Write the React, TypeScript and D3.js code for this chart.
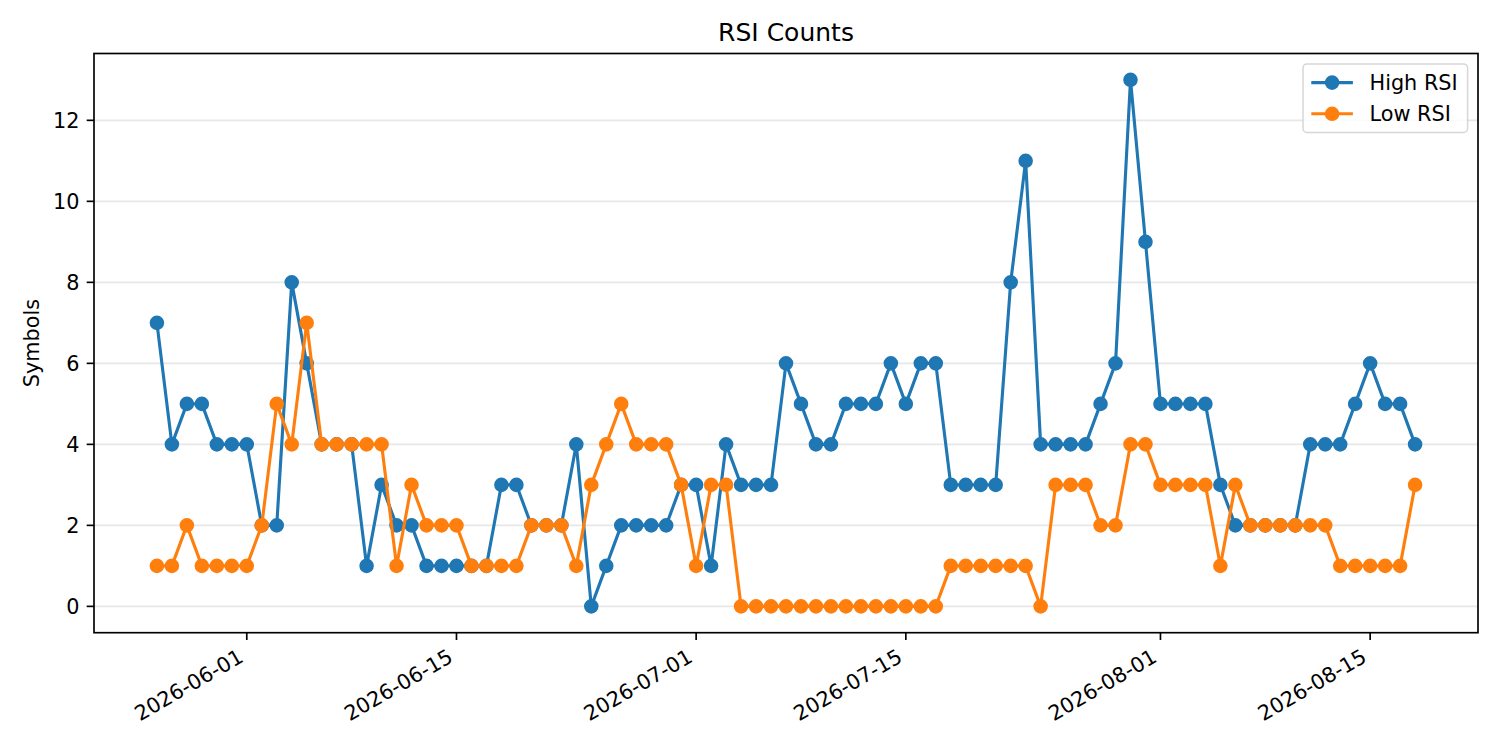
import React from 'react'
import * as d3 from 'd3'

// daily counts, starting 2026-05-26
const startDay = '2026-05-26'
const highRsi = [
  7, 4, 5, 5, 4, 4, 4, 2, 2, 8, 6, 4, 4, 4, 1, 3, 2, 2, 1, 1, 1, 1, 1, 3, 3, 2, 2, 2, 4, 0,
  1, 2, 2, 2, 2, 3, 3, 1, 4, 3, 3, 3, 6, 5, 4, 4, 5, 5, 5, 6, 5, 6, 6, 3, 3, 3, 3, 8, 11, 4,
  4, 4, 4, 5, 6, 13, 9, 5, 5, 5, 5, 3, 2, 2, 2, 2, 2, 4, 4, 4, 5, 6, 5, 5, 4,
]
const lowRsi = [
  1, 1, 2, 1, 1, 1, 1, 2, 5, 4, 7, 4, 4, 4, 4, 4, 1, 3, 2, 2, 2, 1, 1, 1, 1, 2, 2, 2, 1, 3,
  4, 5, 4, 4, 4, 3, 1, 3, 3, 0, 0, 0, 0, 0, 0, 0, 0, 0, 0, 0, 0, 0, 0, 1, 1, 1, 1, 1, 1, 0,
  3, 3, 3, 2, 2, 4, 4, 3, 3, 3, 3, 1, 3, 2, 2, 2, 2, 2, 2, 1, 1, 1, 1, 1, 3,
]
const xTickLabels = ['2026-06-01', '2026-06-15', '2026-07-01', '2026-07-15', '2026-08-01', '2026-08-15']
const yTicks = [0, 2, 4, 6, 8, 10, 12]

const series = [
  { name: 'High RSI', color: '#1f77b4', values: highRsi },
  { name: 'Low RSI', color: '#ff7f0e', values: lowRsi },
]

const W = 1500, H = 750
const left = 94, right = 1478, top = 53.5, bottom = 632.7
const font = '"DejaVu Sans", sans-serif'
const fs = 20.8

const parse = d3.utcParse('%Y-%m-%d')
const start = parse(startDay)!
const dates = highRsi.map((_, i) => d3.utcDay.offset(start, i))

function App() {
  const first = dates[0].getTime(), last = dates[dates.length - 1].getTime()
  const padX = (last - first) * 0.05
  const x = d3.scaleUtc()
    .domain([new Date(first - padX), new Date(last + padX)])
    .range([left, right])
  const yMax = d3.max([...highRsi, ...lowRsi])!
  const padY = yMax * 0.05
  const y = d3.scaleLinear().domain([-padY, yMax + padY]).range([bottom, top])

  const line = d3.line<number>()
    .x((_, i) => x(dates[i]))
    .y(v => y(v))

  const tickLen = 7.3
  const labelH = 20.1
  const legX = 1303, legY = 63.9, legW = right - 10.4 - 1303, legH = 68.6

  return (
    <>
      <style>{`body{margin:0}`}</style>
      <svg width={W} height={H} style={{ display: 'block', background: '#fff' }} fontFamily={font}>
        {/* grid */}
        {yTicks.map(t => (
          <line key={'g' + t} x1={left} x2={right} y1={y(t)} y2={y(t)} stroke="#b0b0b0" strokeOpacity={0.3} strokeWidth={1.67} />
        ))}

        {/* series */}
        {series.map(s => (
          <g key={s.name}>
            <path d={line(s.values)!} fill="none" stroke={s.color} strokeWidth={3.125} strokeLinejoin="round" />
            {s.values.map((v, i) => (
              <circle key={i} cx={x(dates[i])} cy={y(v)} r={6.25} fill={s.color} stroke={s.color} strokeWidth={2.08} />
            ))}
          </g>
        ))}

        {/* frame */}
        <rect x={left} y={top} width={right - left} height={bottom - top} fill="none" stroke="#000" strokeWidth={1.67} />

        {/* y axis */}
        {yTicks.map(t => (
          <g key={'y' + t}>
            <line x1={left} x2={left - tickLen} y1={y(t)} y2={y(t)} stroke="#000" strokeWidth={1.67} />
            <text x={left - tickLen - 7.3} y={y(t)} dy="0.35em" textAnchor="end" fontSize={fs} fill="#000">{t}</text>
          </g>
        ))}
        <text transform={`translate(38.5,${(top + bottom) / 2}) rotate(-90)`} textAnchor="middle" fontSize={fs} fill="#000">Symbols</text>

        {/* x axis */}
        {xTickLabels.map(lbl => {
          const px = x(parse(lbl)!)
          return (
            <g key={lbl}>
              <line x1={px} x2={px} y1={bottom} y2={bottom + tickLen} stroke="#000" strokeWidth={1.67} />
              <text
                transform={`translate(${px - labelH * 0.5},${bottom + tickLen + 7.3}) rotate(-30)`}
                y={15.8}
                textAnchor="end"
                fontSize={fs}
                fill="#000"
              >{lbl}</text>
            </g>
          )
        })}

        {/* title */}
        <text x={(left + right) / 2} y={41} textAnchor="middle" fontSize={25} fill="#000">RSI Counts</text>

        {/* legend */}
        <rect x={legX} y={legY} width={legW} height={legH} rx={4} fill="#fff" fillOpacity={0.8} stroke="#cccccc" strokeOpacity={0.8} strokeWidth={1.5} />
        {series.map((s, i) => {
          const cy = legY + 8.3 + 10.4 + i * 31.2
          const hx = legX + 8.3
          return (
            <g key={'l' + s.name}>
              <line x1={hx} x2={hx + 41.6} y1={cy} y2={cy} stroke={s.color} strokeWidth={3.125} />
              <circle cx={hx + 20.8} cy={cy} r={6.25} fill={s.color} stroke={s.color} strokeWidth={2.08} />
              <text x={hx + 41.6 + 16.6} y={cy} dy="0.35em" fontSize={fs} fill="#000">{s.name}</text>
            </g>
          )
        })}
      </svg>
    </>
  )
}

export default App
